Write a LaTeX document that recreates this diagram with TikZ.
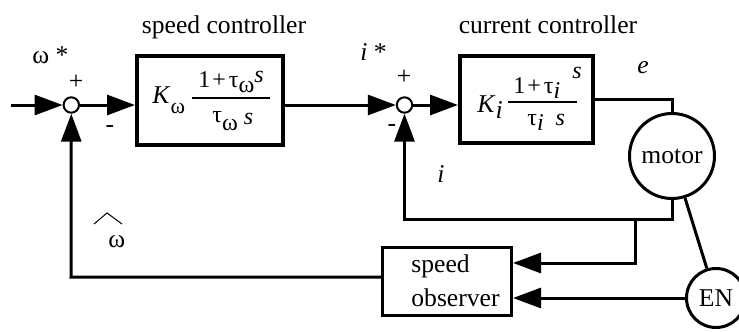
\documentclass[tikz,border=0pt]{standalone}
\usepackage{fontspec}
\setmainfont{Liberation Serif}
\usetikzlibrary{arrows.meta,calc}
\begin{document}
\begin{tikzpicture}[x=0.5pt,y=-0.5pt,
  lbl/.style={font=\fontsize{12.8}{15}\selectfont, inner sep=0pt},
  frac/.style={font=\fontsize{12}{14}\selectfont, inner sep=0pt, anchor=base west},
  blk/.style={draw, line width=2pt, inner sep=0pt},
  sumc/.style={circle, draw, line width=1pt, minimum size=7.7pt, inner sep=0pt, fill=white},
  bigc/.style={circle, draw, line width=1.5pt, inner sep=0pt, font=\fontsize{12.8}{15}\selectfont},
  wire/.style={line width=1.5pt},
  arr/.style={wire, -{Triangle[length=14pt,width=10pt]}},
  bar/.style={line width=0.7pt}
]
\useasboundingbox (0,0) rectangle (739,332);

% blocks
\node[blk, minimum width=73pt, minimum height=44.5pt] (box1) at (210,100.5) {};
\node[blk, minimum width=66.5pt, minimum height=43.5pt] (box2) at (526.5,99.5) {};
\node[blk, line width=1.5pt, minimum width=64.5pt, minimum height=34pt] (obs) at (447,281.5) {};
\node[lbl, anchor=base west] (obs1) at (411,272.7) {speed};
\node[lbl, anchor=base west] (obs2) at (411,306.7) {observer};

\node[bigc, minimum size=42.5pt] (motor) at (672,156) {motor};
\node[bigc, minimum size=29.5pt] (EN) at (716,298) {EN};

\node[sumc] (c1) at (71.3,105) {};
\node[sumc] (c2) at (404.5,105) {};

% labels
\node[lbl, anchor=base] (t1) at (224,33) {speed controller};
\node[lbl, anchor=base] (t2) at (548,33) {current controller};
\node[lbl, anchor=base west] (wstar) at (32,63) {ω *};
\node[lbl] (p1) at (76,82.5) {+};
\node[lbl] (m1) at (110,129) {-};
\node[lbl] (p2) at (404,77) {+};
\node[lbl] (m2) at (392,128) {-};
\node[lbl, anchor=base west] (istar) at (360,60) {\textit{i} *};
\node[lbl, anchor=base west] (elbl) at (637,73) {\textit{e}};
\node[lbl, anchor=base west] (ilbl) at (437,182) {\textit{i}};
\node[lbl, anchor=base west] (what) at (108,247) {ω};
\draw[line width=0.5pt] (94,224) -- (107,213) -- (122,224);

% box contents
\node[lbl, anchor=base west] (K1) at (152,103) {\textit{K}\raisebox{-5pt}{\fontsize{11}{13}\selectfont ω}};
\node[frac] (n1) at (198,87) {1\hspace{1pt}+\hspace{1.5pt}τ\raisebox{-2.5pt}{ω}\raisebox{2pt}{\textit{s}}};
\node[frac] (d1) at (212,122) {τ\raisebox{-4pt}{ω}\hspace{3pt}\raisebox{-1pt}{\textit{s}}};
\draw[bar] (192,98) -- (270,98);

\node[lbl, anchor=base west] (K2) at (477,112) {\textit{K}\raisebox{-3pt}{\textit{i}}};
\node[frac] (n2) at (513,93) {1\hspace{1pt}+\hspace{1.5pt}τ\raisebox{-2.5pt}{\textit{i}}\hspace{6pt}\raisebox{7.5pt}{\textit{s}}};
\node[frac] (d2) at (527,125) {τ\raisebox{-2.5pt}{\textit{i}}\hspace{6pt}\textit{s}};
\draw[bar] (508,102) -- (577,102);

% wires
\coordinate (in) at (11,105);
\coordinate (fb) at (672,219);
\coordinate (tap) at (635,219);
\coordinate (k1) at (635,263);
\coordinate (k2) at (71,277);
\draw[arr] (in) -- (c1);
\draw[arr] (c1) -- (c1 -| box1.west);
\draw[arr] (c1 -| box1.east) -- (c2);
\draw[arr] (c2) -- (c2 -| box2.west);
\draw[wire] (box2.east) -| (motor.north);
\draw[arr] (motor.south) -- (fb) -| (c2.south);
\draw[arr] (tap) -- (k1) -- (k1 -| obs.east);
\draw[arr] (EN.west) -- (EN.west -| obs.east);
\draw[wire] (motor) -- (EN);
\draw[arr] (k2 -| obs.west) -- (k2) -- (c1.south);
\end{tikzpicture}
\end{document}
